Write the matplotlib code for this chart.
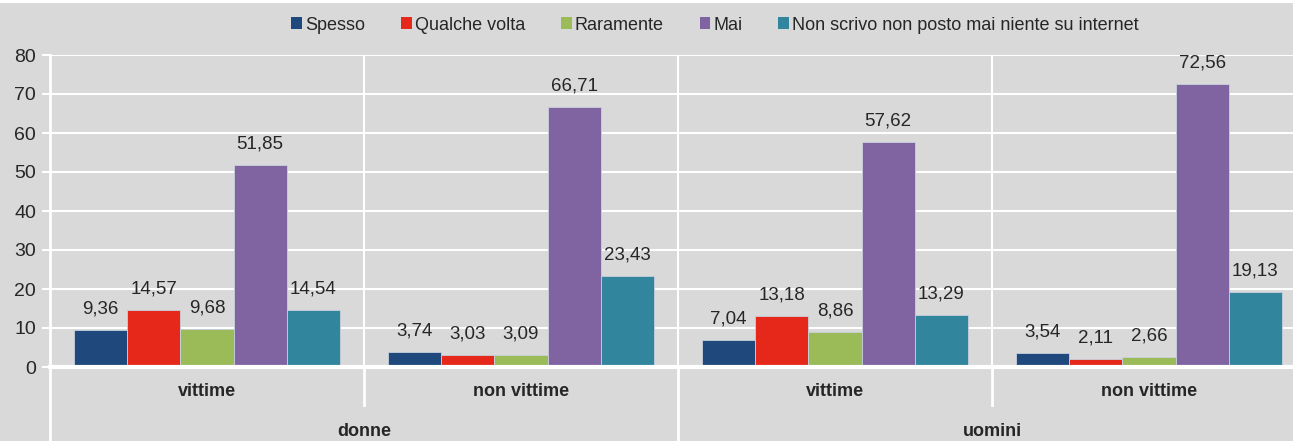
import matplotlib.pyplot as plt
import numpy as np
from matplotlib.patches import Patch, Rectangle

plt.rcParams['font.family'] = ['Liberation Sans Narrow', 'Liberation Sans', 'DejaVu Sans']

# data
categorie = ['vittime', 'non vittime', 'vittime', 'non vittime']
gruppi = ['donne', 'uomini']
serie = ['Spesso', 'Qualche volta', 'Raramente', 'Mai',
         'Non scrivo non posto mai niente su internet']
spesso = [9.36, 3.74, 7.04, 3.54]
qualche_volta = [14.57, 3.03, 13.18, 2.11]
raramente = [9.68, 3.09, 8.86, 2.66]
mai = [51.85, 66.71, 57.62, 72.56]
non_scrivo = [14.54, 23.43, 13.29, 19.13]
valori = [spesso, qualche_volta, raramente, mai, non_scrivo]
colori = ['#1f497d', '#e5281a', '#9bbb59', '#8064a2', '#31859c']

bg = '#d9d9d9'
W, H = 1293, 441
fig = plt.figure(figsize=(W / 100, H / 100), dpi=100, facecolor=bg)
fig.patches.append(Rectangle((0, 1 - 3 / H), 1, 3 / H, transform=fig.transFigure,
                             facecolor='white', edgecolor='none'))

ax = fig.add_axes([50 / W, (H - 367) / H, 1256 / W, 312 / H])
ax.set_facecolor(bg)
ax.set_xlim(-0.5, 3.5)
ax.set_ylim(0, 80)

for s in ax.spines.values():
    s.set_visible(False)

# gridlines
for y in range(10, 81, 10):
    ax.axhline(y, color='white', lw=1.5, zorder=0)
for xv in [0.5, 1.5, 2.5]:
    ax.axvline(xv, color='white', lw=1.5, zorder=0)
ax.axhline(0, color='white', lw=3, zorder=3, clip_on=False)

# bars
x = np.arange(len(categorie))
bw = 0.847 / 5
for i, (vals, col) in enumerate(zip(valori, colori)):
    pos = x - 2 * bw + i * bw
    ax.bar(pos, vals, width=bw, color=col, edgecolor='#c8d0dc', linewidth=0.6, zorder=2)
    for px, v in zip(pos, vals):
        ax.annotate(f'{v:.2f}'.replace('.', ','), (px, v), xytext=(0, 9),
                    textcoords='offset points', ha='center', va='bottom',
                    fontsize=13.5, color='#262626')

# y axis
ax.set_yticks(range(0, 81, 10))
ax.tick_params(axis='y', colors='white', length=6, width=1.5, labelsize=14,
               labelcolor='#262626', pad=4)
ax.set_xticks([])
tr = ax.get_xaxis_transform()
ax.plot([-0.5, -0.5], [1, -0.3], color='white', lw=2, transform=tr, clip_on=False)
ax.plot([1.5, 1.5], [0, -0.3], color='white', lw=2, transform=tr, clip_on=False)
for xv in [0.5, 2.5]:
    ax.plot([xv, xv], [0, -0.122], color='white', lw=2, transform=tr, clip_on=False)

# category labels
for xi, c in zip(x, categorie):
    ax.text(xi, -0.08, c, transform=tr, ha='center', va='center',
            fontsize=13, fontweight='bold', color='#262626')
for xg, g in zip([0.5, 2.5], gruppi):
    ax.text(xg, -0.208, g, transform=tr, ha='center', va='center',
            fontsize=13, fontweight='bold', color='#262626')

# legend
handles = [Patch(facecolor=c, edgecolor='none') for c in colori]
fig.legend(handles, serie, loc='center', bbox_to_anchor=(715 / W, 1 - 25 / H),
           ncol=5, frameon=False, fontsize=13, handlelength=0.6, handleheight=0.6,
           handletextpad=0.15, columnspacing=2.0, labelcolor='#262626')

fig.savefig('out.png', dpi=100, facecolor=bg)
